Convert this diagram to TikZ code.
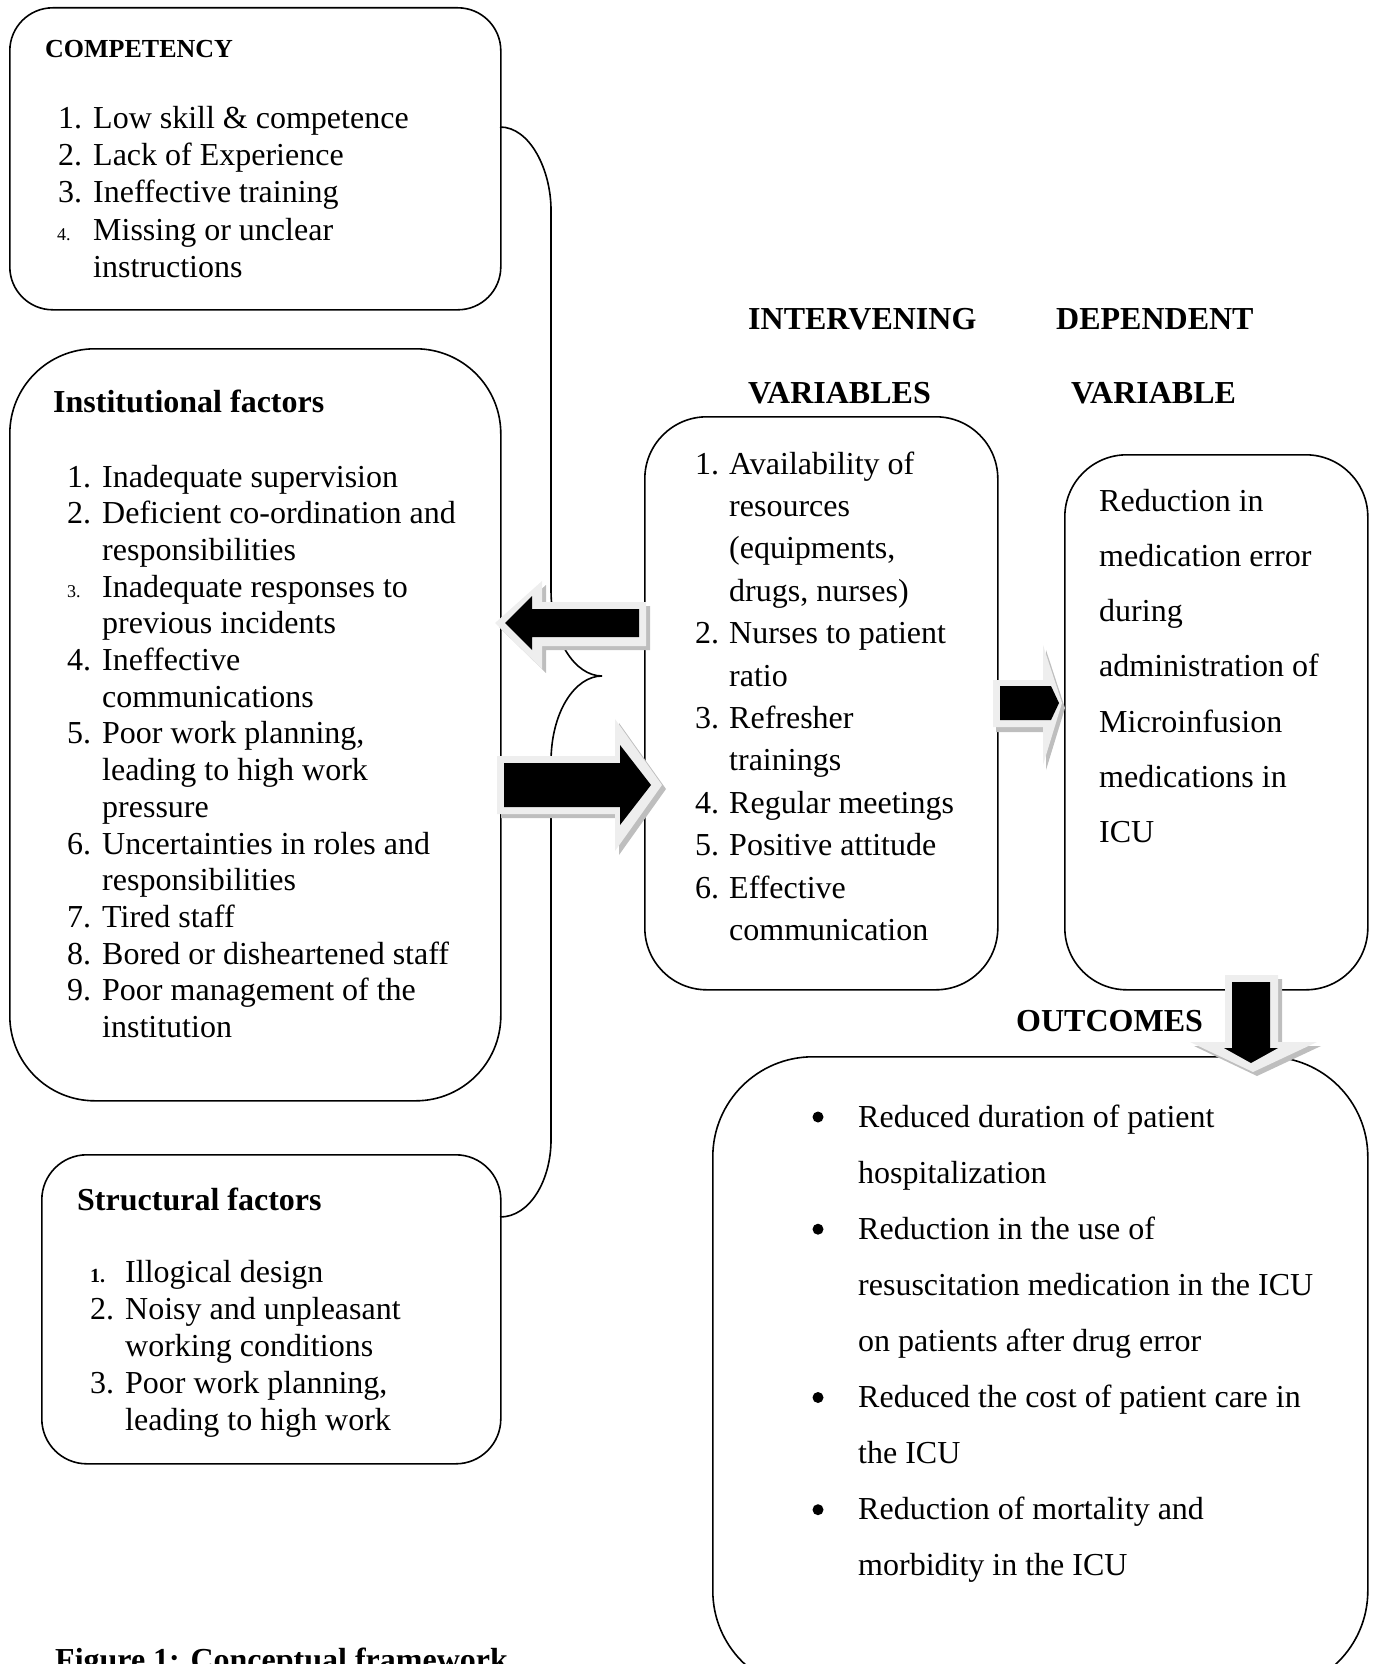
\documentclass[tikz,border=0pt]{standalone}
\usepackage{fontspec}
\setmainfont{Liberation Serif}
\definecolor{arrlight}{HTML}{EEEEEE}
\definecolor{arrshade}{HTML}{BEBEBE}
\begin{document}
\begin{tikzpicture}[x=1pt,y=-1pt,
  box/.style={draw, line width=1.6pt, inner sep=0pt, anchor=north west},
  txt/.style={inner sep=0pt, anchor=base west, font=\fontsize{32}{38}\selectfont},
  hd/.style={inner sep=0pt, anchor=base west, font=\fontsize{32}{38}\selectfont\bfseries},
  snum/.style={inner sep=0pt, anchor=base west, font=\fontsize{18}{20}\selectfont},
  bul/.style={circle, fill=black, inner sep=0pt, minimum size=11pt},
  brace/.style={line width=1.6pt},
  ashadow/.style={fill=arrshade},
  aout/.style={fill=arrlight},
  ain/.style={fill=black},
]
\useasboundingbox (0,0) rectangle (1376,1664);
\clip (0,0) rectangle (1376,1664);

% ---------- boxes ----------
\node[box, rounded corners=43pt, minimum width=491pt, minimum height=302pt] (comp) at (9,7) {};
\node[box, rounded corners=85pt, minimum width=491pt, minimum height=752pt] (inst) at (9,348) {};
\node[box, rounded corners=45pt, minimum width=459pt, minimum height=309pt] (struc) at (41,1154) {};
\node[box, rounded corners=62pt, minimum width=353pt, minimum height=573pt] (interv) at (644,416) {};
\node[box, rounded corners=62pt, minimum width=303pt, minimum height=535pt] (dep) at (1064,454) {};
\node[box, rounded corners=100pt, minimum width=655pt, minimum height=634pt] (outc) at (712,1056) {};

% ---------- brace ----------
\coordinate (brA) at (500,127);
\coordinate (brTip) at (602,676);
\coordinate (brB) at (500,1217);
\draw[brace] (brA) .. controls (530,127) and (551,170) .. (551,210) -- (551,590)
  .. controls (551,640) and (575,676) .. (brTip)
  .. controls (575,676) and (551,712) .. (551,762) -- (551,1140)
  .. controls (551,1180) and (530,1217) .. (brB);

% ---------- competency ----------
\node[hd, font=\fontsize{26}{30}\selectfont\bfseries] (compH) at (45,58) {COMPETENCY};
\foreach \n/\y in {1/129,2/166,3/203} \node[txt] (compn\n) at (58,\y) {\n.};
\node[snum] (compn4) at (57,240) {4.};
\foreach \t [count=\i] in {Low skill \& competence, Lack of Experience, Ineffective training, Missing or unclear, instructions}
  \node[txt] (compt\i) at (93,{129+37*(\i-1)}) {\t};

% ---------- institutional ----------
\node[hd] (instH) at (53,412) {Institutional factors};
\foreach \n/\k in {1/0,2/1,4/5,5/7,6/10,7/12,8/13,9/14}
  \node[txt] (instn\n) at (67,{487+36.7*\k}) {\n.};
\node[snum] (instn3) at (67,{487+36.7*3}) {3.};
\foreach \t [count=\i] in {Inadequate supervision, Deficient co-ordination and, responsibilities,
  Inadequate responses to, previous incidents, Ineffective, communications, {Poor work planning,},
  leading to high work, pressure, Uncertainties in roles and, responsibilities, Tired staff,
  Bored or disheartened staff, Poor management of the, institution}
  \node[txt] (instt\i) at (102,{487+36.7*(\i-1)}) {\t};

% ---------- structural ----------
\node[hd] (strucH) at (77,1210) {Structural factors};
\node[snum, font=\fontsize{20}{22}\selectfont\bfseries] (strucn1) at (90,1282) {1.};
\node[txt] (strucn2) at (90,1319) {2.};
\node[txt] (strucn3) at (90,1393) {3.};
\foreach \t [count=\i] in {Illogical design, Noisy and unpleasant, working conditions, {Poor work planning,}, leading to high work}
  \node[txt] (struct\i) at (125,{1282+37*(\i-1)}) {\t};

% ---------- headings ----------
\node[hd] (hInt) at (748,329) {INTERVENING};
\node[hd] (hVars) at (748,403) {VARIABLES};
\node[hd] (hDep) at (1056,329) {DEPENDENT};
\node[hd] (hVar) at (1071,403) {VARIABLE};
\node[hd] (hOut) at (1016,1031) {OUTCOMES};

% ---------- intervening ----------
\foreach \n/\k in {1/0,2/4,3/6,4/8,5/9,6/10}
  \node[txt] (intn\n) at (695,{474+42.4*\k}) {\n.};
\foreach \t [count=\i] in {Availability of, resources, {(equipments,}, {drugs, nurses)}, Nurses to patient,
  ratio, Refresher, trainings, Regular meetings, Positive attitude, Effective, communication}
  \node[txt] (intt\i) at (729,{474+42.4*(\i-1)}) {\t};

% ---------- dependent ----------
\foreach \t [count=\i] in {Reduction in, medication error, during, administration of, Microinfusion, medications in, ICU}
  \node[txt] (dept\i) at (1099,{511+55.3*(\i-1)}) {\t};

% ---------- outcomes ----------
\foreach \k [count=\i] in {0,2,5,7}
  \node[bul] (ob\i) at (818,{1127+56.1*\k-10}) {};
\foreach \t [count=\i] in {Reduced duration of patient, hospitalization, Reduction in the use of,
  resuscitation medication in the ICU, on patients after drug error, Reduced the cost of patient care in,
  the ICU, Reduction of mortality and, morbidity in the ICU}
  \node[txt] (outt\i) at (858,{1127+56.1*(\i-1)}) {\t};

% ---------- caption ----------
\node[hd] (cap) at (55,1670) {Figure 1: Conceptual framework};

% ---------- block arrows ----------
% left arrow (intervening -> institutional)
\fill[ashadow, shift={(4,4)}] (495,623) -- (542,581) -- (542,602) -- (646,602) -- (646,646) -- (542,646) -- (542,669) -- cycle;
\fill[aout] (495,623) -- (542,581) -- (542,602) -- (646,602) -- (646,646) -- (542,646) -- (542,669) -- cycle;
\fill[ain] (505,623) -- (532,596) -- (532,609) -- (639,609) -- (639,637) -- (532,637) -- (532,650) -- cycle;
% right arrow (institutional -> intervening)
\fill[ashadow, shift={(4,4)}] (497,756) -- (615,756) -- (615,719) -- (662,785) -- (615,851) -- (615,814) -- (497,814) -- cycle;
\fill[aout] (497,756) -- (615,756) -- (615,719) -- (662,785) -- (615,851) -- (615,814) -- (497,814) -- cycle;
\fill[ain] (504,763) -- (620,763) -- (620,745) -- (651,785) -- (620,825) -- (620,807) -- (504,807) -- cycle;
% small arrow (intervening -> dependent)
\fill[ashadow, shift={(3,5)}] (993,680) -- (1043,680) -- (1043,645) -- (1062,703) -- (1043,765) -- (1043,727) -- (993,727) -- cycle;
\fill[aout] (993,680) -- (1043,680) -- (1043,645) -- (1062,703) -- (1043,765) -- (1043,727) -- (993,727) -- cycle;
\fill[ain] (1000,686) -- (1051,686) -- (1059,703) -- (1051,720) -- (1000,720) -- cycle;
% down arrow (dependent -> outcomes)
\fill[ashadow, shift={(4,4)}] (1225,975) -- (1278,975) -- (1278,1042) -- (1317,1042) -- (1253,1072) -- (1190,1042) -- (1225,1042) -- cycle;
\fill[aout] (1225,975) -- (1278,975) -- (1278,1042) -- (1317,1042) -- (1253,1072) -- (1190,1042) -- (1225,1042) -- cycle;
\fill[ain] (1232,982) -- (1270,982) -- (1270,1048) -- (1278,1048) -- (1251,1063) -- (1224,1048) -- (1232,1048) -- cycle;
\end{tikzpicture}
\end{document}
